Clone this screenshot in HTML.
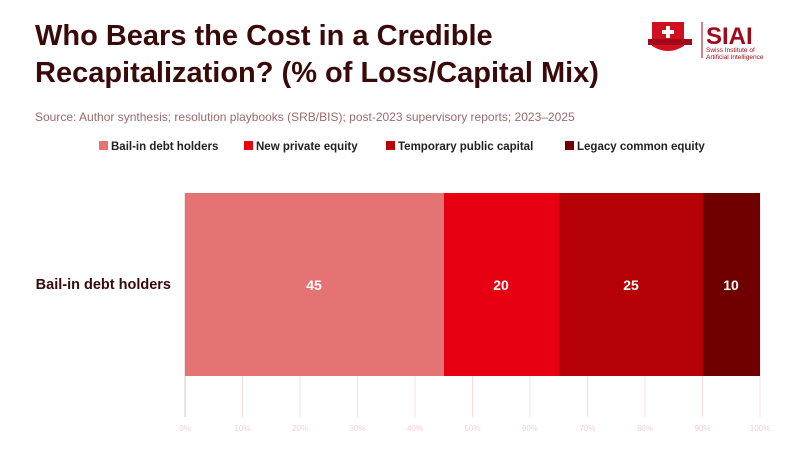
<!DOCTYPE html>
<html><head><meta charset="utf-8"><style>
body{margin:0;width:800px;height:450px;background:#fff;font-family:"Liberation Sans",sans-serif;overflow:hidden;position:relative}
.t{position:absolute;left:35px;top:18px;font-size:29px;font-weight:bold;color:#3a0a0a;line-height:37px;letter-spacing:0px}
.s{position:absolute;left:35px;top:110px;font-size:12px;color:#9a6b6b}
</style></head><body>
<div class="t">Who Bears the Cost in a Credible<br>Recapitalization? (% of Loss/Capital Mix)</div>
<div class="s">Source: Author synthesis; resolution playbooks (SRB/BIS); post-2023 supervisory reports; 2023–2025</div>
<svg width="800" height="450" style="position:absolute;left:0;top:0" font-family="Liberation Sans, sans-serif">
<path d="M652 22 L684 22 L684 46 Q668 56 652 46 Z" fill="#d01020"/>
<rect x="648" y="39" width="44" height="6" fill="#a00a18"/>
<rect x="666" y="26" width="4" height="12" fill="#fff"/><rect x="662" y="30" width="12" height="4" fill="#fff"/>
<line x1="702" y1="22" x2="702" y2="58" stroke="#a00a18" stroke-width="1"/>
<text x="706" y="44" font-size="24" font-weight="bold" fill="#a00a18">SIAI</text>
<text x="706" y="52" font-size="6.5" fill="#a00a18">Swiss Institute of</text>
<text x="706" y="59" font-size="6.5" fill="#a00a18">Artificial Intelligence</text>
<g font-size="11.5" font-weight="bold" fill="#222">
<rect x="99" y="141" width="9" height="9" fill="#e57373"/><text x="111" y="150">Bail-in debt holders</text>
<rect x="244" y="141" width="9" height="9" fill="#e60012"/><text x="256" y="150">New private equity</text>
<rect x="386" y="141" width="9" height="9" fill="#b50006"/><text x="398" y="150">Temporary public capital</text>
<rect x="565" y="141" width="9" height="9" fill="#700000"/><text x="577" y="150">Legacy common equity</text>
</g>
<g stroke="#f6dede" stroke-width="1">
<line x1="242.5" y1="193" x2="242.5" y2="417"/><line x1="300" y1="193" x2="300" y2="417"/>
<line x1="357.5" y1="193" x2="357.5" y2="417"/><line x1="415" y1="193" x2="415" y2="417"/>
<line x1="472.5" y1="193" x2="472.5" y2="417"/><line x1="530" y1="193" x2="530" y2="417"/>
<line x1="587.5" y1="193" x2="587.5" y2="417"/><line x1="645" y1="193" x2="645" y2="417"/>
<line x1="702.5" y1="193" x2="702.5" y2="417"/><line x1="760" y1="193" x2="760" y2="417"/>
</g>
<line x1="185" y1="193" x2="185" y2="417" stroke="#ccc"/>
<rect x="185" y="193" width="259" height="183" fill="#e57373"/>
<rect x="444" y="193" width="115" height="183" fill="#e60012"/>
<rect x="559" y="193" width="144" height="183" fill="#b50006"/>
<rect x="703" y="193" width="57" height="183" fill="#700000"/>
<g font-size="14" font-weight="bold" fill="#fff" text-anchor="middle">
<text x="314" y="290">45</text><text x="501" y="290">20</text><text x="631" y="290">25</text><text x="731" y="290">10</text>
</g>
<text x="171" y="289" font-size="14.5" font-weight="bold" fill="#3a0a0a" text-anchor="end">Bail-in debt holders</text>
<g font-size="8" fill="#f6d0d0" text-anchor="middle">
<text x="185" y="431">0%</text><text x="242.5" y="431">10%</text><text x="300" y="431">20%</text><text x="357.5" y="431">30%</text><text x="415" y="431">40%</text><text x="472.5" y="431">50%</text><text x="530" y="431">60%</text><text x="587.5" y="431">70%</text><text x="645" y="431">80%</text><text x="702.5" y="431">90%</text><text x="760" y="431">100%</text>
</g>
</svg>
</body></html>
